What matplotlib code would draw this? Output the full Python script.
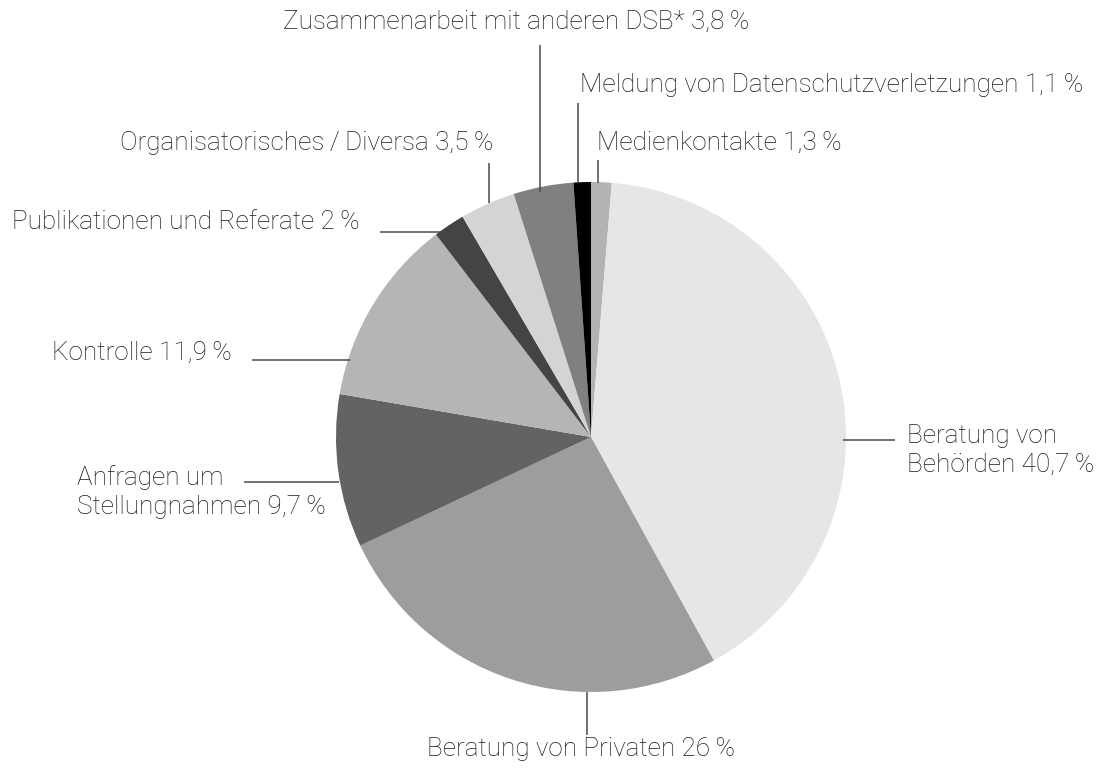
import numpy as np
import matplotlib
matplotlib.use("Agg")
import matplotlib.pyplot as plt

# ---- data (clockwise from top) ----
categories = [
    "Medienkontakte",
    "Beratung von\nBehörden",
    "Beratung von Privaten",
    "Anfragen um\nStellungnahmen",
    "Kontrolle",
    "Publikationen und Referate",
    "Organisatorisches\u2009/\u2009Diversa",
    "Zusammenarbeit mit anderen DSB*",
    "Meldung von Datenschutzverletzungen",
]
values = [1.3, 40.7, 26.0, 9.7, 11.9, 2.0, 3.5, 3.8, 1.1]
value_labels = ["1,3\u2009%", "40,7\u2009%", "26\u2009%", "9,7\u2009%", "11,9\u2009%",
                "2\u2009%", "3,5\u2009%", "3,8\u2009%", "1,1\u2009%"]
colors = ["#b3b3b3", "#e6e6e6", "#9d9d9d", "#636363", "#b5b5b5",
          "#444444", "#d4d4d4", "#808080", "#000000"]

W, H = 1105, 775
fig = plt.figure(figsize=(W / 100, H / 100), dpi=100)
ax = fig.add_axes([0, 0, 1, 1])

cx, cy, R = 591, H - 437, 255
wedges, _ = ax.pie(values, colors=colors, startangle=90, counterclock=False,
                   center=(cx, cy), radius=R, frame=True,
                   wedgeprops=dict(linewidth=0))
ax.set_xlim(0, W)
ax.set_ylim(0, H)
ax.set_aspect("equal")
ax.axis("off")

font = dict(family=["Roboto", "DejaVu Sans"], fontweight="light", fontsize=18.8, color="#1a1a1a")
lc = dict(color="#4a4a4a", lw=1.1)

def ypix(y):
    return H - y

# layout: (text x, text y, ha, line (x0,y0,x1,y1)) in pixel coords from top-left
layout = [
    (597, 143, "left", (598, 183, 598, 160)),
    (907, 450, "left", (843, 440, 895, 440)),
    (581, 749, "center", (587, 692, 587, 735)),
    (77, 492, "left", (339, 482, 244, 482)),
    (52, 353, "left", (350, 360, 252, 360)),
    (12, 222, "left", (445, 232, 380, 232)),
    (120, 143, "left", (489, 203, 489, 163)),
    (283, 22, "left", (540, 192, 540, 45)),
    (580, 85, "left", (578, 182, 578, 103)),
]

for cat, vl, (tx, ty, ha, ln) in zip(categories, value_labels, layout):
    ax.plot([ln[0], ln[2]], [ypix(ln[1]), ypix(ln[3])], solid_capstyle="butt", **lc)
    ax.text(tx, ypix(ty), f"{cat} {vl}", ha=ha, va="center", linespacing=1.25, **font)

fig.savefig("out.png", dpi=100, facecolor="white")
